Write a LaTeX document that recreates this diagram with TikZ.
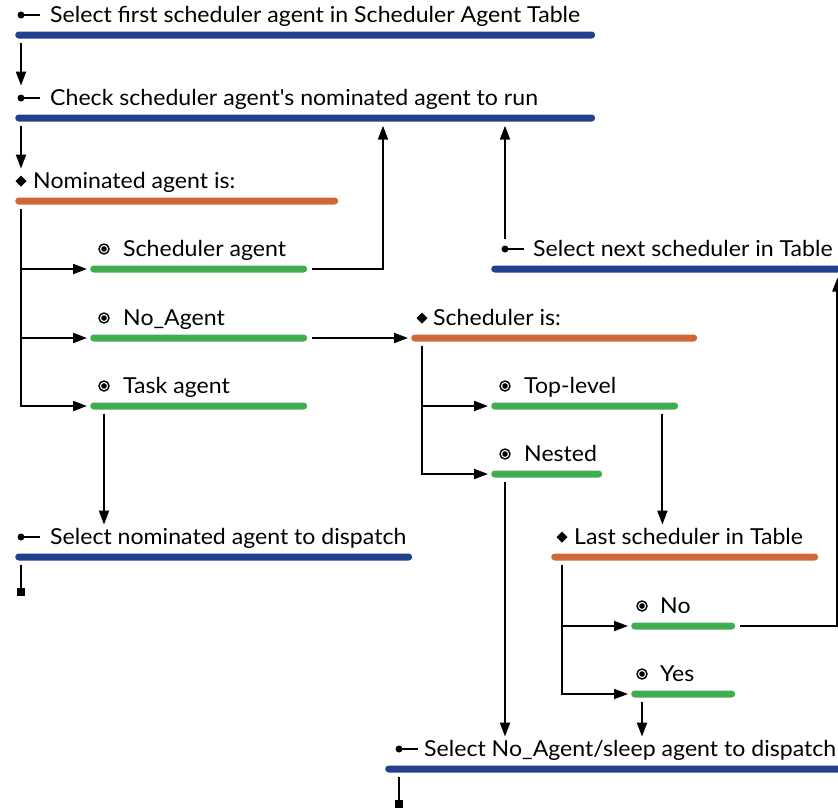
\documentclass[tikz,border=0pt]{standalone}
\usepackage{fontspec}
\setmainfont[FakeStretch=1.05]{Lato}
\usetikzlibrary{arrows.meta,calc}
\definecolor{flowblue}{RGB}{35,64,140}
\definecolor{floworange}{RGB}{208,103,58}
\definecolor{flowgreen}{RGB}{64,174,80}
\tikzset{
  barnode/.style={rectangle, rounded corners=3.5pt, minimum height=7pt, inner sep=0pt, anchor=west},
  label/.style={anchor=base west, inner sep=0pt, font=\fontsize{22}{26}\selectfont},
  link/.style={line width=2pt},
  arr/.style={link, -{Triangle[length=14pt,width=10pt]}},
  endsq/.style={rectangle, fill=black, minimum size=8pt, inner sep=0pt, anchor=north},
  actmark/.pic={\fill (0,0) circle (3.5pt); \draw[line width=2pt] (0,0) -- (19pt,0);},
  decmark/.pic={\fill (-5.5pt,0) -- (0,5.5pt) -- (5.5pt,0) -- (0,-5.5pt) -- cycle;},
  optmark/.pic={\draw[line width=1.4pt] (0,0) circle (5pt); \fill (0,0) circle (2.8pt);},
}
% one step: name, left x, right x, bar y, colour, mark, mark x, text x, text
\newcommand\flowstep[9]{%
  \node[barnode, fill=#5, minimum width=#3pt-#2pt] (#1) at (#2,#4) {};
  \coordinate (#1-m) at (#7,#4-20);
  \pic at (#1-m) {#6};
  \node[label] (#1-t) at (#8,#4-13) {#9};
}
\begin{document}
\begin{tikzpicture}[x=1pt,y=-1pt]
\useasboundingbox (0,0) rectangle (838,807);

% steps
\flowstep{sel}{15}{595}{35}{flowblue}{actmark}{21}{50}{Select first scheduler agent in Scheduler Agent Table}
\flowstep{chk}{15}{595}{118}{flowblue}{actmark}{21}{50}{Check scheduler agent\textquotesingle s nominated agent to run}
\flowstep{nom}{15}{338}{201}{floworange}{decmark}{21}{33}{Nominated agent is:}
\flowstep{sag}{90}{307}{269}{flowgreen}{optmark}{104}{123}{Scheduler agent}
\flowstep{noa}{90}{307}{338}{flowgreen}{optmark}{104}{123}{No\_Agent}
\flowstep{tag}{90}{307}{406}{flowgreen}{optmark}{104}{123}{Task agent}
\flowstep{nxt}{491}{844}{269}{flowblue}{actmark}{505}{533}{Select next scheduler in Table}
\flowstep{sis}{411}{697}{338}{floworange}{decmark}{422}{433}{Scheduler is:}
\flowstep{top}{491}{678}{406}{flowgreen}{optmark}{505}{524}{Top-level}
\flowstep{nst}{491}{602}{474}{flowgreen}{optmark}{505}{524}{Nested}
\flowstep{dsp}{15}{412}{557}{flowblue}{actmark}{21}{50}{Select nominated agent to dispatch}
\flowstep{lst}{551}{818}{557}{floworange}{decmark}{562}{574}{Last scheduler in Table}
\flowstep{no}{631}{735}{626}{flowgreen}{optmark}{642}{660}{No}
\flowstep{yes}{631}{735}{694}{flowgreen}{optmark}{642}{660}{Yes}
\flowstep{slp}{385}{844}{769}{flowblue}{actmark}{399}{424}{Select No\_Agent/sleep agent to dispatch}

% end markers
\node[endsq] (dsp-end) at (21,588) {};
\node[endsq] (slp-end) at (399,800) {};

% main sequence
\draw[arr, shorten <=4pt, shorten >=3pt] (sel.south -| sel-m) -- (sel-m |- chk-t.north);
\draw[arr, shorten <=4pt, shorten >=3pt] (chk.south -| chk-m) -- (chk-m |- nom-t.north);

% nominated agent choices
\draw[arr, shorten <=4pt, shorten >=3pt] (nom.south -| nom-m) |- (tag.west);
\draw[arr, shorten >=3pt] (nom-m |- sag.west) -- (sag.west);
\draw[arr, shorten >=3pt] (nom-m |- noa.west) -- (noa.west);

% scheduler agent: back to the check
\draw[arr, shorten <=5pt, shorten >=4pt] (sag.east) -| ($(chk.south west)+(368,0)$);
% next scheduler: back to the check
\draw[arr, shorten <=10pt, shorten >=4pt] (nxt-m) -- (nxt-m |- chk.south);

% no agent: test the scheduler
\draw[arr, shorten <=5pt, shorten >=3pt] (noa.east) -- (sis.west);
\draw[arr, shorten <=4pt, shorten >=3pt] (sis.south -| sis-m) |- (nst.west);
\draw[arr, shorten >=3pt] (sis-m |- top.west) -- (top.west);

% task agent: dispatch it
\draw[arr, shorten <=4pt, shorten >=3pt] (tag.south -| tag-m) -- (tag-m |- dsp-t.north);
\draw[link, shorten <=4pt] (dsp.south -| dsp-m) -- (dsp-end.north);

% top-level: last scheduler test
\coordinate (top-d) at ($(top.south east)+(-16,0)$);
\draw[arr, shorten <=4pt, shorten >=3pt] (top-d) -- (top-d |- lst-t.north);
\draw[arr, shorten <=4pt, shorten >=3pt] (lst.south -| lst-m) |- (yes.west);
\draw[arr, shorten >=3pt] (lst-m |- no.west) -- (no.west);

% no: take the next scheduler
\draw[arr, shorten <=5pt, shorten >=5pt] (no.east) -| ($(nxt.south east)+(-7,0)$);

% yes / nested: sleep agent
\draw[arr, shorten <=4pt, shorten >=3pt] (yes.south -| yes-m) -- (yes-m |- slp-t.north);
\draw[arr, shorten <=4pt, shorten >=3pt] (nst.south -| nst-m) -- (nst-m |- slp-t.north);
\draw[link, shorten <=4pt] (slp.south -| slp-m) -- (slp-end.north);
\end{tikzpicture}
\end{document}
